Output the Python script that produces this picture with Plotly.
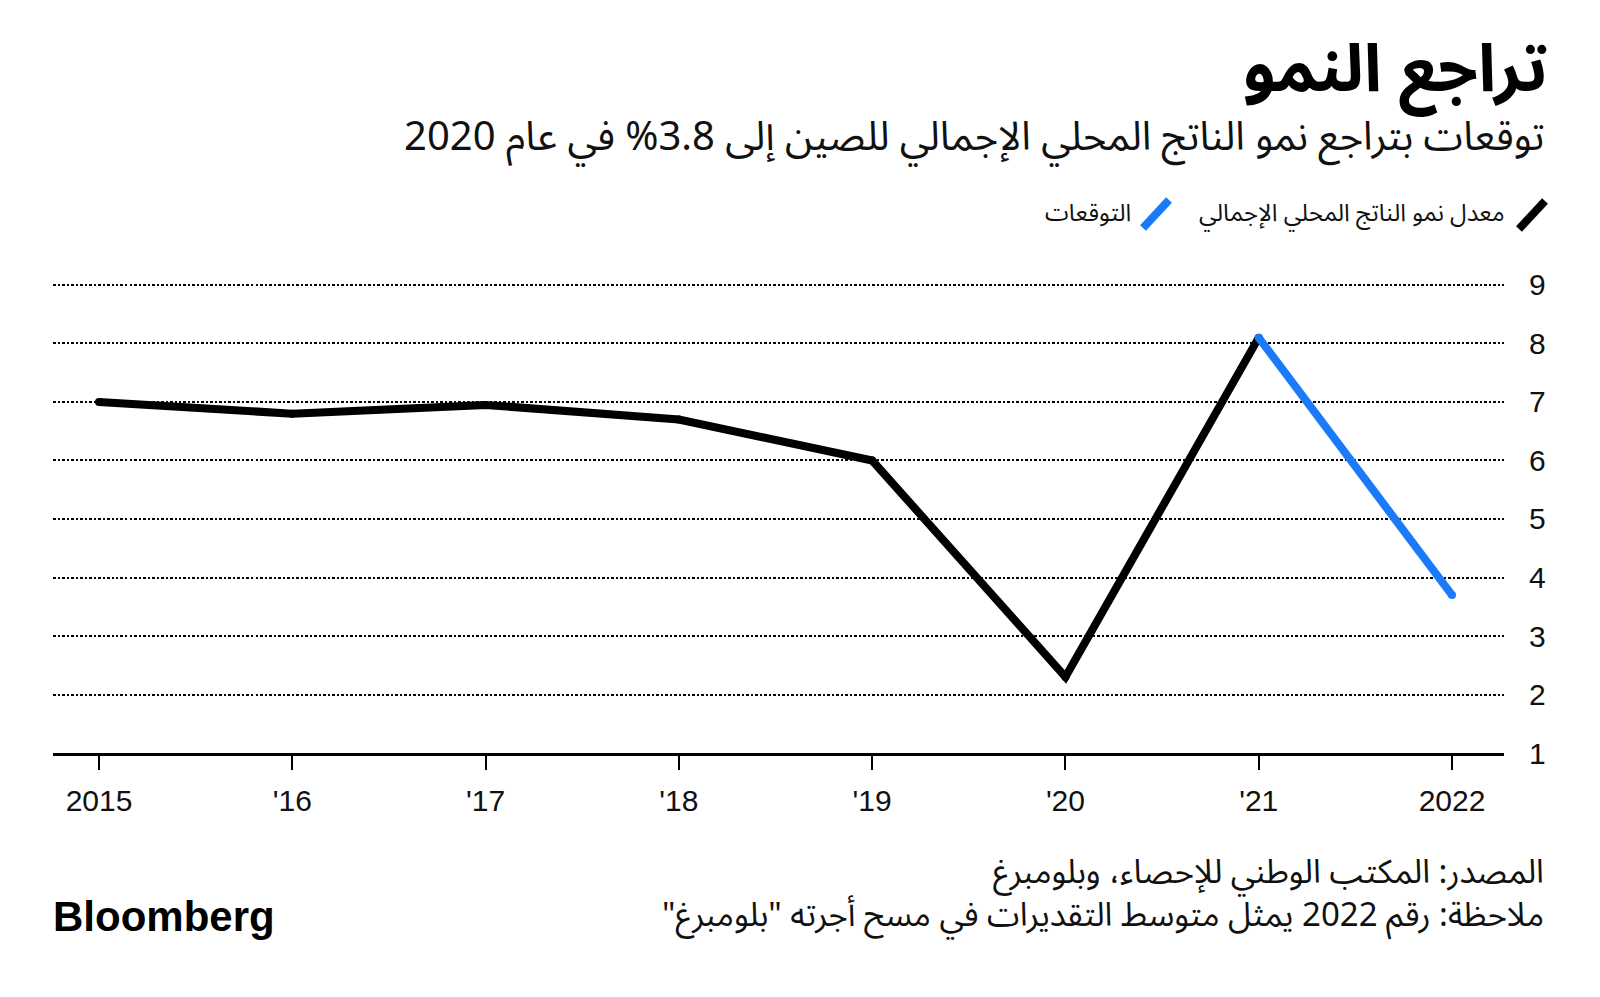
import plotly.graph_objects as go

# ---- data ----
years = [2015, 2016, 2017, 2018, 2019, 2020, 2021]
gdp_growth = [7.0, 6.8, 6.95, 6.7, 6.0, 2.3, 8.1]
forecast_years = [2021, 2022]
forecast_values = [8.1, 3.7]
tick_years = [2015, 2016, 2017, 2018, 2019, 2020, 2021, 2022]
tick_labels = ["2015", "'16", "'17", "'18", "'19", "'20", "'21", "2022"]
y_ticks = [1, 2, 3, 4, 5, 6, 7, 8, 9]

title = "تراجع النمو"
subtitle = "توقعات بتراجع نمو الناتج المحلي الإجمالي للصين إلى 3.8% في عام 2020"
legend_actual = "معدل نمو الناتج المحلي الإجمالي"
legend_forecast = "التوقعات"
source = "المصدر: المكتب الوطني للإحصاء، وبلومبرغ"
note = "ملاحظة: رقم 2022 يمثل متوسط التقديرات في مسح أجرته \"بلومبرغ\""

# ---- layout geometry (page has an 8px body margin) ----
OFF = 8
W, H = 1584, 981
L, R, T, B = 45, 88, 275, 236
PW, PH = W - L - R, H - T - B
RLM = "\u200f"

def px(x):
    return (x - OFF - L) / PW

def py(y):
    return (H - B - (y - OFF)) / PH

BLACK = "#000000"
BLUE = "#1a7af8"
AR = "Noto Sans Arabic, DejaVu Sans, sans-serif"
NUM = "Liberation Sans, Arial, sans-serif"

fig = go.Figure()
fig.add_trace(go.Scatter(
    x=years, y=gdp_growth, mode="lines+markers",
    line=dict(color=BLACK, width=8),
    marker=dict(color=BLACK, size=8, line=dict(width=0)),
    showlegend=False, hoverinfo="skip", cliponaxis=False))
fig.add_trace(go.Scatter(
    x=forecast_years, y=forecast_values, mode="lines+markers",
    line=dict(color=BLUE, width=8),
    marker=dict(color=BLUE, size=8, line=dict(width=0)),
    showlegend=False, hoverinfo="skip", cliponaxis=False))

fig.update_layout(
    width=W, height=H,
    margin=dict(l=L, r=R, t=T, b=B, pad=0),
    paper_bgcolor="white", plot_bgcolor="white",
    showlegend=False,
    xaxis=dict(
        range=[2014.762, 2022.269],
        tickvals=tick_years, ticktext=tick_labels,
        showgrid=False, zeroline=False,
        showline=True, linecolor=BLACK, linewidth=3,
        ticks="outside", ticklen=14, tickwidth=2, tickcolor=BLACK,
        tickfont=dict(family=NUM, size=30, color="#111"),
        ticklabelstandoff=5,
    ),
    yaxis=dict(
        range=[1, 9.034], side="right",
        tickvals=y_ticks,
        showgrid=True, gridcolor="#000", gridwidth=1.8, griddash="2.5px,2px",
        zeroline=False, showline=False, ticks="",
        tickfont=dict(family=NUM, size=30, color="#111"),
        ticklabelstandoff=24,
    ),
)

ann = []
ann.append(dict(text="<b>" + title + "</b>", x=px(1550), y=py(70), xanchor="right", yanchor="middle",
                font=dict(family=AR, size=66, color=BLACK)))
ann.append(dict(text=RLM + subtitle + RLM, x=px(1546), y=py(137), xanchor="right", yanchor="middle",
                font=dict(family=AR, size=40, color="#111")))
ann.append(dict(text=legend_actual, x=px(1507), y=py(214), xanchor="right", yanchor="middle",
                font=dict(family=AR, size=24, color="#111")))
ann.append(dict(text=legend_forecast, x=px(1133), y=py(214), xanchor="right", yanchor="middle",
                font=dict(family=AR, size=24, color="#111")))
ann.append(dict(text=RLM + source + RLM + "<br>" + RLM + note + RLM,
                x=px(1546), y=py(894), xanchor="right", yanchor="middle", align="right",
                font=dict(family=AR, size=33, color="#111")))
ann.append(dict(text="<b>Bloomberg</b>", x=px(51), y=py(916), xanchor="left", yanchor="middle",
                font=dict(family=NUM, size=42, color=BLACK)))
for a in ann:
    a.update(xref="paper", yref="paper", showarrow=False)
fig.update_layout(annotations=ann)

fig.add_shape(type="line", xref="paper", yref="paper",
              x0=px(1519), y0=py(229), x1=px(1545), y1=py(201),
              line=dict(color=BLACK, width=8))
fig.add_shape(type="line", xref="paper", yref="paper",
              x0=px(1143), y0=py(228), x1=px(1169), y1=py(200),
              line=dict(color=BLUE, width=8))

fig.write_html("out.html")
